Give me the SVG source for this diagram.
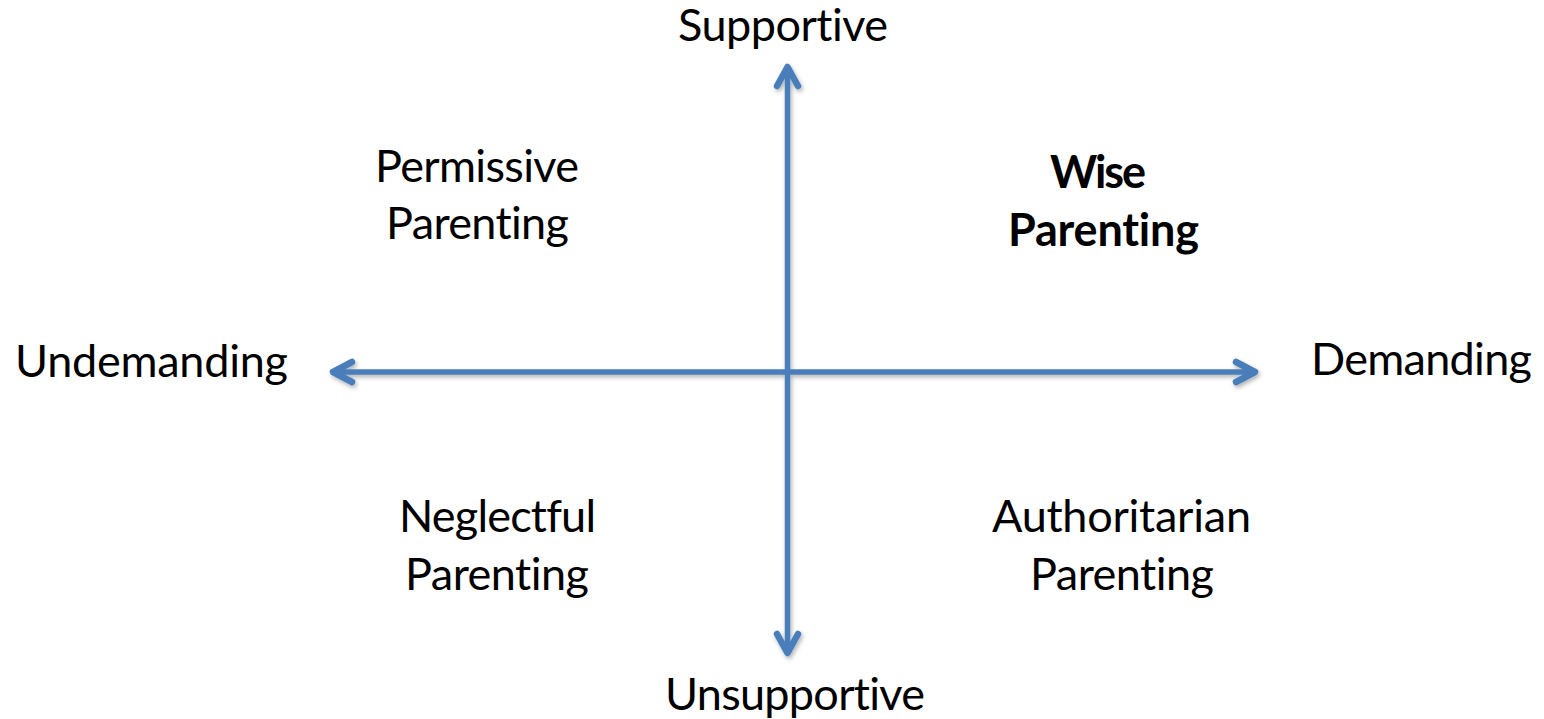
<svg xmlns="http://www.w3.org/2000/svg" width="1544" height="719" viewBox="0 0 1544 719">
  <defs>
    <filter id="shadow" x="-5%" y="-5%" width="110%" height="110%">
      <feDropShadow dx="1.5" dy="2.5" stdDeviation="2" flood-color="#000" flood-opacity="0.3"/>
    </filter>
  </defs>
  <style>
    .axis { fill: none; stroke: #4A7EBB; stroke-width: 5.5; }
    .head { fill: none; stroke: #4A7EBB; stroke-width: 6.5; stroke-linecap: round; stroke-linejoin: round; }
    .lbl { font-family: Lato, "Open Sans", "Liberation Sans", sans-serif; font-size: 45px; fill: #000; text-anchor: middle; font-variant-ligatures: none; font-feature-settings: "liga" 0; }
    .bold { font-weight: bold; }
  </style>
  <rect width="1544" height="719" fill="#fff"/>

  <!-- axes -->
  <g id="connectors" filter="url(#shadow)">
    <line class="axis" x1="334" y1="372" x2="1254" y2="372"/>
    <polyline class="head" points="352,362 333,372 352,382"/>
    <polyline class="head" points="1236,362 1255,372 1236,382"/>
    <line class="axis" x1="787.5" y1="67" x2="787.5" y2="653"/>
    <polyline class="head" points="777,86 787.5,67 798,86"/>
    <polyline class="head" points="777,634 787.5,653 798,634"/>
  </g>

  <!-- axis end labels -->
  <g id="supportive"><text class="lbl" x="783" y="41" textLength="210">Supportive</text></g>
  <g id="unsupportive"><text class="lbl" x="795" y="710" textLength="260">Unsupportive</text></g>
  <g id="undemanding"><text class="lbl" x="151.5" y="377" textLength="273">Undemanding</text></g>
  <g id="demanding"><text class="lbl" x="1421.5" y="375" textLength="221">Demanding</text></g>

  <!-- quadrant labels -->
  <g id="permissive">
    <text class="lbl" x="477" y="182" textLength="204">Permissive</text>
    <text class="lbl" x="477.5" y="239" textLength="183">Parenting</text>
  </g>
  <g id="wise">
    <text class="lbl bold" x="1098" y="188" textLength="96">Wise</text>
    <text class="lbl bold" x="1103.5" y="246" textLength="191">Parenting</text>
  </g>
  <g id="neglectful">
    <text class="lbl" x="497.5" y="532" textLength="197">Neglectful</text>
    <text class="lbl" x="497" y="590" textLength="184">Parenting</text>
  </g>
  <g id="authoritarian">
    <text class="lbl" x="1121.5" y="532" textLength="259">Authoritarian</text>
    <text class="lbl" x="1122" y="590" textLength="184">Parenting</text>
  </g>
</svg>
